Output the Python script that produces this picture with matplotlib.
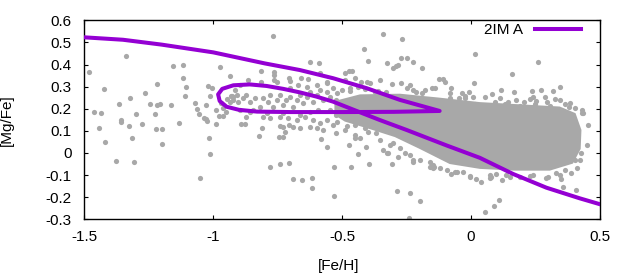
import matplotlib
matplotlib.use("Agg")
import matplotlib.pyplot as plt
from matplotlib.lines import Line2D

plt.rcParams['font.family'] = ['Liberation Sans', 'DejaVu Sans']

# model track (2IM A) in plotting order
track_fe = [-1.5, -1.35, -1.2, -1.0, -0.8, -0.664, -0.535, -0.405, -0.276, -0.122,
            -0.3, -0.5, -0.7, -0.83, -0.9, -0.948, -0.975, -0.981, -0.965, -0.922,
            -0.858, -0.793, -0.729, -0.664, -0.6, -0.535, -0.444, -0.354, -0.25,
            -0.095, 0.034, 0.163, 0.292, 0.421, 0.5]
track_mg = [0.523, 0.512, 0.490, 0.455, 0.405, 0.375, 0.338, 0.293, 0.240, 0.190,
            0.186, 0.185, 0.185, 0.187, 0.195, 0.209, 0.235, 0.265, 0.290, 0.306,
            0.310, 0.303, 0.290, 0.274, 0.255, 0.232, 0.190, 0.149, 0.104,
            0.034, -0.022, -0.095, -0.157, -0.205, -0.232]

# outline of the solid part of the star cloud
core_fe = [-0.53, -0.431, -0.276, -0.121, 0.034, 0.189, 0.344, 0.405, 0.428, 0.425,
           0.395, 0.305, 0.169, 0.034, -0.083, -0.199, -0.296, -0.393, -0.490, -0.53]
core_mg = [0.235, 0.265, 0.268, 0.250, 0.230, 0.220, 0.210, 0.180, 0.104, 0.018,
           -0.048, -0.080, -0.080, -0.072, -0.050, 0.018, 0.072, 0.108, 0.142, 0.172]

# individual stars outside the solid cloud
star_fe = [
    -1.482, -1.462, -1.436, -1.424, -1.443, -1.421, -1.378, -1.365, -1.359, -1.359,
    -1.324, -1.327, -1.316, -1.307, -1.301, -1.276, -1.266, -1.245, -1.226, -1.219,
    -1.218, -1.207, -1.223, -1.200, -1.200, -1.164, -1.157, -1.133, -1.119, -1.119,
    -1.107, -1.111, -1.071, -1.064, -1.055, -1.036, -1.027, -1.023, -1.053, -1.021,
    -1.006, -1.014, -1.029, -1.018, -1.014, -0.991, -0.990, -0.975, -0.936, -0.978,
    -0.962, -0.964, -0.951, -0.948, -0.933, -0.926, -0.971, -0.936, -1.340,
    -0.770, -0.340, -0.417, -0.398, -0.626, -0.589, -0.815, -0.765, -0.764, -0.766,
    -0.754, -0.705, -0.703, -0.660, -0.634, -0.815, -0.586, -0.560, -0.490, -0.474,
    -0.461, -0.425, -0.405, -0.866,
    -0.891, -0.878, -0.812, -0.824, -0.741, -0.729, -0.721, -0.745, -0.729, -0.705,
    -0.664, -0.599, -0.583, -0.559, -0.522, -0.778, -0.741, -0.707, -0.690, -0.656,
    -0.617, -0.615, -0.533, -0.533, -0.467, -0.474, -0.440, -0.397, -0.452, -0.431,
    -0.409, -0.326,
    -0.266, -0.270, -0.247, -0.227, -0.283, -0.326, -0.302, -0.292, -0.191, 0.014,
    0.261, 0.158, -0.125, -0.109, -0.101, -0.153, -0.076, -0.081, -0.272, -0.250,
    -0.227, -0.215, -0.192, 0.010, -0.009, 0.008, -0.037, -0.024, -0.047, 0.081,
    0.115, 0.167, 0.238, 0.270, 0.318, 0.345, 0.205, 0.240, 0.253, 0.296,
    0.326, 0.380, 0.430, 0.143, 0.176, 0.092, 0.047, 0.111,
    -0.287, -0.235, -0.199, -0.241, 0.053, 0.088, 0.107, -0.305, -0.285, -0.076,
    -0.053, 0.021, 0.040, 0.079, 0.098, 0.120, 0.350, 0.357, 0.406, -0.160,
    -0.143, -0.225, 0.344, 0.389, 0.428, 0.435,
    -0.922, -0.909, -0.925, -0.903, -0.884, -0.871, -0.858, -0.838, -0.845, -0.819,
    -0.806, -0.787, -0.780, -0.767, -0.754, -0.741, -0.729, -0.716, -0.703, -0.690,
    -0.677, -0.664, -0.651, -0.638, -0.625, -0.612, -0.599, -0.586, -0.574, -0.560,
    -0.548, -0.535, -0.522, -0.806, -0.780, -0.741, -0.709, -0.677, -0.645, -0.612,
    -0.586, -0.560, -0.535, -0.871, -0.897, -0.858, -0.793, -0.729, -0.664, -0.625,
    -0.593, -0.548, -0.522, -0.916, -0.897, -0.703, -0.671, -0.638, -0.599, -0.560,
    -0.690, -0.625, -0.574,
    -0.490, -0.451, -0.393, -0.354, -0.307, -0.238, -0.179, -0.141, -0.470, -0.373,
    -0.490, -0.451, -0.412, -0.354, -0.315, -0.276, -0.238, -0.199, -0.160, -0.121,
    -0.063, -0.005, 0.072, 0.150, 0.227, 0.297, 0.363, 0.402, 0.449, 0.452,
    0.429, -0.083, -0.024, 0.053, 0.111, 0.227, 0.285, 0.344, 0.382,
    -0.341, -0.322, -0.302, -0.257, -0.225, -0.147,
    -0.083, -0.044, 0.014, 0.072, 0.131, 0.189, 0.247, 0.305, 0.363, 0.402,
    -0.148, -0.095, -0.031, -0.005, 0.072, 0.137, 0.189, 0.240, 0.292, 0.331,
    0.409, 0.421, -0.52, -0.50, -0.47, -0.44, -0.41, -0.36, -0.33, -0.52,
    -0.48, -0.45, -0.40, -0.37,
]
star_mg = [
    0.368, 0.187, 0.182, 0.289, 0.114, 0.051, -0.035, 0.223, 0.149, 0.140,
    0.250, 0.122, 0.068, -0.041, 0.176, 0.133, 0.271, 0.223, 0.176, 0.312,
    0.217, 0.223, 0.109, 0.109, 0.042, 0.218, 0.393, 0.137, 0.399, 0.341,
    0.300, 0.259, 0.228, 0.200, 0.178, 0.160, 0.155, 0.145, -0.112, 0.304,
    0.295, 0.259, 0.217, 0.069, -0.003, 0.194, 0.133, 0.390, 0.350, 0.167,
    0.167, 0.205, 0.187, 0.244, 0.258, 0.259, 0.228, 0.232, 0.440,
    0.531, 0.538, 0.470, 0.416, 0.412, 0.408, 0.371, 0.368, 0.353, 0.330,
    0.321, 0.341, 0.326, 0.341, 0.333, 0.322, 0.360, 0.322, 0.363, 0.372,
    0.372, 0.320, 0.322, 0.330,
    0.130, 0.130, 0.114, 0.078, 0.122, 0.119, 0.096, 0.074, 0.074, 0.127,
    0.114, 0.114, 0.062, 0.028, 0.089, -0.062, -0.048, -0.044, -0.118, -0.122,
    -0.112, -0.157, -0.062, -0.193, -0.062, 0.036, -0.005, -0.050, 0.066, 0.066,
    0.028, -0.001,
    0.514, 0.428, 0.431, 0.412, 0.398, 0.406, 0.383, 0.395, 0.386, 0.449,
    0.413, 0.359, 0.333, 0.336, 0.322, 0.295, 0.293, 0.270, 0.315, 0.293,
    0.285, 0.277, 0.270, 0.318, 0.277, 0.255, 0.273, 0.247, 0.250, 0.265,
    0.285, 0.277, 0.280, 0.284, 0.279, 0.300, 0.232, 0.252, 0.235, 0.232,
    0.243, 0.207, 0.182, 0.232, 0.240, 0.229, 0.207, 0.207,
    -0.171, -0.180, -0.216, -0.295, -0.265, -0.240, -0.213, -0.050, -0.017, -0.095,
    -0.085, -0.119, -0.130, -0.107, -0.095, -0.122, -0.119, -0.155, -0.167, -0.062,
    -0.062, -0.042, -0.100, -0.092, -0.001, 0.180,
    0.255, 0.262, 0.240, 0.232, 0.247, 0.262, 0.232, 0.247, 0.194, 0.209,
    0.247, 0.232, 0.262, 0.209, 0.240, 0.262, 0.217, 0.240, 0.255, 0.209,
    0.240, 0.262, 0.225, 0.255, 0.277, 0.232, 0.262, 0.285, 0.240, 0.277,
    0.255, 0.293, 0.240, 0.164, 0.157, 0.164, 0.157, 0.149, 0.164, 0.149,
    0.134, 0.149, 0.127, 0.164, 0.194, 0.187, 0.180, 0.180, 0.172, 0.187,
    0.194, 0.194, 0.172, 0.285, 0.308, 0.293, 0.308, 0.300, 0.308, 0.315,
    0.119, 0.119, 0.104,
    0.330, 0.339, 0.317, 0.330, 0.312, 0.308, 0.285, 0.294, 0.294, 0.276,
    0.104, 0.081, 0.113, 0.059, 0.036, 0.023, -0.009, -0.032, -0.041, -0.068,
    -0.086, -0.104, -0.113, -0.109, -0.104, -0.109, -0.077, -0.032, 0.036, 0.127,
    0.194, 0.249, 0.258, 0.253, 0.249, 0.244, 0.253, 0.240, 0.226,
    0.014, -0.001, 0.044, -0.001, -0.032, -0.054,
    0.222, 0.213, 0.222, 0.213, 0.222, 0.213, 0.222, 0.213, 0.222, 0.205,
    -0.068, -0.077, -0.085, -0.107, -0.100, -0.100, -0.107, -0.100, -0.114, -0.092,
    -0.069, -0.032, 0.270, 0.285, 0.278, 0.300, 0.290, 0.282, 0.275, 0.140,
    0.120, 0.125, 0.095, 0.090,
]

x_ticks = [-1.5, -1, -0.5, 0, 0.5]
x_tick_labels = ["-1.5", "-1", "-0.5", "0", "0.5"]
y_ticks = [-0.3, -0.2, -0.1, 0, 0.1, 0.2, 0.3, 0.4, 0.5, 0.6]
y_tick_labels = ["-0.3", "-0.2", "-0.1", "0", "0.1", "0.2", "0.3", "0.4", "0.5", "0.6"]

grey = "#a8a8a8"
purple = "#9400d3"

fig = plt.figure(figsize=(6.3, 2.8), dpi=100)
ax = fig.add_axes([0.1338, 0.2168, 0.8186, 0.7107])

ax.fill(core_fe, core_mg, color=grey, lw=0, zorder=2)
ax.scatter(star_fe, star_mg, s=14, c=grey, marker="o", linewidths=0, zorder=2)
ax.plot(track_fe, track_mg, color=purple, lw=2.9, solid_joinstyle="round", zorder=3)

ax.set_xlim(-1.5, 0.5)
ax.set_ylim(-0.3, 0.6)
ax.set_xticks(x_ticks)
ax.set_xticklabels(x_tick_labels)
ax.set_yticks(y_ticks)
ax.set_yticklabels(y_tick_labels)
ax.tick_params(direction="in", length=3, width=0.8, top=True, right=True,
               labelsize=11, colors="black")
ax.tick_params(axis="x", pad=8)
ax.tick_params(axis="y", pad=9)
for s in ax.spines.values():
    s.set_linewidth(1.0)

ax.set_xlabel("[Fe/H]", fontsize=11)
ax.set_ylabel("[Mg/Fe]", fontsize=11)
ax.xaxis.set_label_coords(0.494, -0.20)
ax.yaxis.set_label_coords(-0.136, 0.5)

handle = Line2D([], [], color=purple, lw=2.9)
ax.legend([handle], ["2IM A"], loc="upper right", bbox_to_anchor=(581 / 630, 1 - 23 / 280),
          bbox_transform=fig.transFigure, frameon=False, markerfirst=False,
          handlelength=3.0, handletextpad=0.8, borderpad=0, borderaxespad=0, fontsize=11)

fig.savefig("out.png", dpi=100)
